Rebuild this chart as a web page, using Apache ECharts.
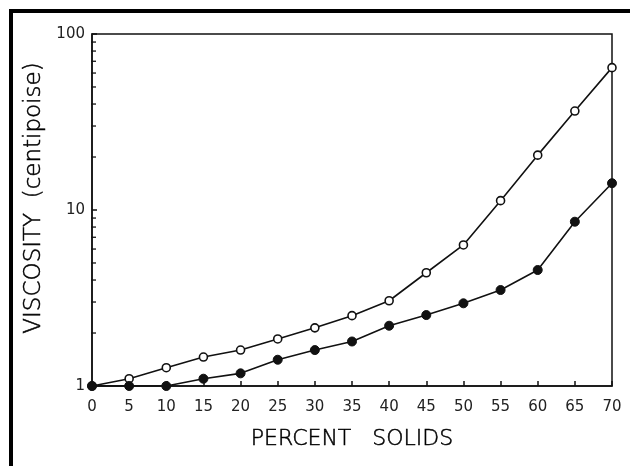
<!DOCTYPE html>
<html>
<head>
<meta charset="utf-8">
<script src="https://cdn.jsdelivr.net/npm/echarts@6/dist/echarts.min.js"></script>
<style>html,body{margin:0;padding:0;background:#fff;}#c{width:630px;height:466px;}</style>
</head>
<body>
<div id="c"></div>
<script>
var percentSolids = [0, 5, 10, 15, 20, 25, 30, 35, 40, 45, 50, 55, 60, 65, 70];
var openSeries = [1, 1.10, 1.27, 1.46, 1.60, 1.85, 2.14, 2.51, 3.05, 4.40, 6.33, 11.3, 20.5, 36.5, 64.4];
var filledSeries = [1, 1, 1, 1.10, 1.18, 1.41, 1.60, 1.79, 2.20, 2.53, 2.95, 3.51, 4.56, 8.58, 14.2];
var yTickLabels = ['1', '10', '100'];
var yMinorTicks = [2, 3, 4, 5, 6, 7, 8, 9, 20, 30, 40, 50, 60, 70, 80, 90];

var chart = echarts.init(document.getElementById('c'), null, {renderer: 'canvas'});
var FONT = 'DejaVu Sans';
function pairs(ys) { return percentSolids.map(function (x, i) { return [x, ys[i]]; }); }

chart.setOption({
  animation: false,
  backgroundColor: '#fff',
  textStyle: {fontFamily: FONT},
  graphic: [{
    type: 'rect', z: 100,
    shape: {x: 11, y: 11, width: 660, height: 500},
    style: {fill: 'none', stroke: '#000', lineWidth: 4}
  }],
  grid: {left: 92, right: 18, top: 34, bottom: 80, show: true, borderColor: '#111', borderWidth: 1.5, backgroundColor: 'transparent'},
  xAxis: {
    type: 'value', min: 0, max: 70, interval: 5,
    name: 'PERCENT   SOLIDS', nameLocation: 'middle', nameGap: 42,
    nameTextStyle: {fontSize: 22, color: '#000', fontFamily: FONT, fontWeight: 200,
      textBorderColor: '#000', textBorderWidth: 0.5},
    axisLine: {lineStyle: {color: '#111', width: 1.5}},
    axisTick: {inside: true, length: 5, lineStyle: {color: '#111', width: 1.5}},
    axisLabel: {fontSize: 15, color: '#222', margin: 14, fontFamily: FONT},
    splitLine: {show: false}
  },
  yAxis: {
    type: 'log', logBase: 10, min: 1, max: 100,
    name: 'VISCOSITY  (centipoise)', nameLocation: 'middle', nameGap: 33,
    nameTextStyle: {fontSize: 23, color: '#000', fontFamily: FONT, fontWeight: 200,
      textBorderColor: '#000', textBorderWidth: 0.5, padding: [0, 0, 0, 24]},
    axisLine: {lineStyle: {color: '#111', width: 1.5}},
    axisTick: {inside: true, length: 5, lineStyle: {color: '#111', width: 1.5}},
    axisLabel: {fontSize: 15, color: '#222', margin: 7, fontFamily: FONT,
      formatter: function (v) { var s = String(Math.round(v)); return yTickLabels.indexOf(s) >= 0 ? s : ''; }},
    splitLine: {show: false}
  },
  series: [
    {
      type: 'custom', silent: true, z: 1,
      data: yMinorTicks.map(function (v) { return [0, v]; }),
      renderItem: function (params, api) {
        var p = api.coord([api.value(0), api.value(1)]);
        return {type: 'line', shape: {x1: p[0] - 1, y1: p[1], x2: p[0] + 4, y2: p[1]},
          style: {stroke: '#111', lineWidth: 1.3}};
      }
    },
    {
      type: 'line', data: pairs(openSeries), symbol: 'circle', symbolSize: 8,
      lineStyle: {color: '#111', width: 1.6},
      itemStyle: {color: '#fff', borderColor: '#111', borderWidth: 1.6}, z: 3
    },
    {
      type: 'line', data: pairs(filledSeries), symbol: 'circle', symbolSize: 9,
      lineStyle: {color: '#111', width: 1.6},
      itemStyle: {color: '#111', borderColor: '#111', borderWidth: 1}, z: 3
    }
  ]
});
</script>
</body>
</html>
